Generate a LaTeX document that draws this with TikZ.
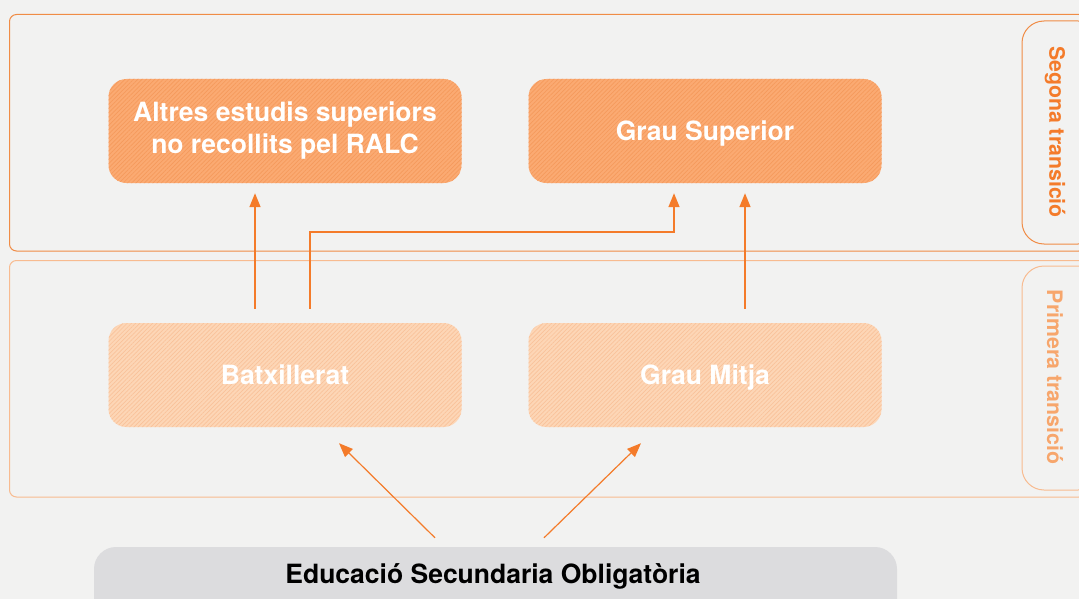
\documentclass[tikz,border=0pt]{standalone}
\usepackage{fontspec}
\setmainfont{TeX Gyre Heros}
\usetikzlibrary{arrows.meta,patterns.meta}
\definecolor{bg}{HTML}{F2F2F1}
\definecolor{arrc}{HTML}{F47B2A}
\definecolor{frameA}{HTML}{F08C46}
\definecolor{frameB}{HTML}{F8BB90}
\definecolor{boxA}{HTML}{FBAA72}
\definecolor{boxAline}{HTML}{F59A5C}
\definecolor{boxB}{HTML}{FDD6B6}
\definecolor{boxBline}{HTML}{F9C29A}
\definecolor{labA}{HTML}{F47B2A}
\definecolor{labB}{HTML}{F7A66C}
\definecolor{esofill}{HTML}{DCDCDE}
\tikzset{
  stagebox/.style={rounded corners=18pt, minimum width=353pt, minimum height=104pt,
    align=center, text=white, font=\bfseries\fontsize{26.5}{32}\selectfont, inner sep=0pt},
  oneline/.style={text height=19pt, text depth=0pt},
  topbox/.style={stagebox, fill=boxA,
    postaction={pattern={Lines[angle=45,distance=3pt,line width=0.7pt]}, pattern color=boxAline}},
  lowbox/.style={stagebox, fill=boxB,
    postaction={pattern={Lines[angle=45,distance=3pt,line width=0.7pt]}, pattern color=boxBline}},
  arr/.style={draw=arrc, line width=1.5pt, -{Triangle[length=14pt,width=11pt]}},
  darr/.style={draw=arrc, line width=1.2pt, -{Triangle[length=14pt,width=11pt]}},
  sidelab/.style={rotate=-90, font=\bfseries\fontsize{21.3}{24}\selectfont, inner sep=0pt},
}
\begin{document}
\begin{tikzpicture}[x=1pt,y=-1pt]
\useasboundingbox (0,0) rectangle (1079,599);
\fill[bg] (0,0) rectangle (1079,599);
\clip (0,0) rectangle (1079,599);
% frames
\draw[frameA, line width=1pt, rounded corners=7pt] (9.5,14.5) rectangle (1086,251);
\draw[frameB, line width=1pt, rounded corners=7pt] (9.5,260.5) rectangle (1086,497);
\draw[frameA, line width=1pt, rounded corners=22pt] (1022,21) rectangle (1100,244);
\draw[frameB, line width=1pt, rounded corners=22pt] (1022,266) rectangle (1100,490);
\node[sidelab, text=labA] (seglab) at (1055,132) {Segona transició};
\node[sidelab, text=labB] (primlab) at (1055,377) {Primera transició};
% boxes
\node[topbox] (altres) at (285,131) {Altres estudis superiors\\no recollits pel RALC};
\node[topbox, oneline] (grausup) at (705,131) {Grau Superior};
\node[lowbox, oneline] (batx) at (285,375) {Batxillerat};
\node[lowbox, oneline] (graumitja) at (705,375) {Grau Mitja};
\node[fill=esofill, rounded corners=22pt, minimum width=803pt, minimum height=90pt, inner sep=0pt] (eso) at (495.5,592) {};
\node[font=\bfseries\fontsize{26.5}{30}\selectfont, text=black, anchor=base] (esotext) at (493,583) {Educació Secundaria Obligatòria};
% arrows
\draw[arr, shorten <=14pt, shorten >=10pt] ([xshift=-30pt]batx.north) -- ([xshift=-30pt]altres.south);
\draw[arr, shorten <=14pt, shorten >=10pt] ([xshift=25pt]batx.north) -- ([xshift=25pt,yshift=91pt]batx.north) -| ([xshift=-31pt]grausup.south);
\draw[arr, shorten <=14pt, shorten >=10pt] ([xshift=40pt]graumitja.north) -- ([xshift=40pt]grausup.south);
\draw[darr] ([xshift=-60.5pt,yshift=9pt]eso.north) -- ([xshift=54pt,yshift=-16pt]batx.south);
\draw[darr] ([xshift=48.5pt,yshift=9pt]eso.north) -- ([xshift=-64pt,yshift=-16pt]graumitja.south);
\end{tikzpicture}
\end{document}
